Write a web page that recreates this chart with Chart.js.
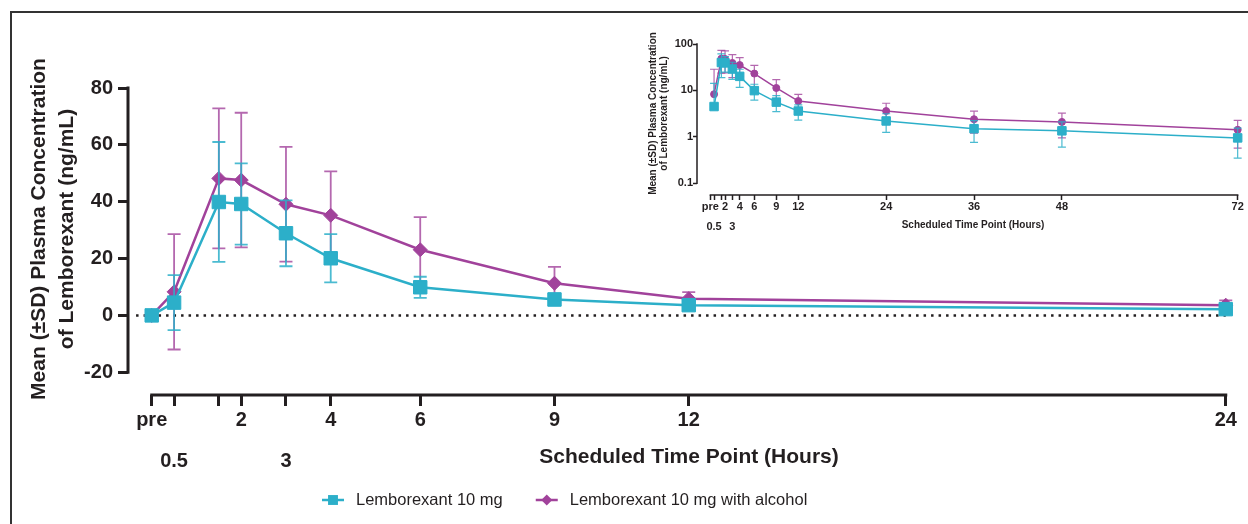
<!DOCTYPE html>
<html>
<head>
<meta charset="utf-8">
<script src="https://cdn.jsdelivr.net/npm/chart.js@4.4.1/dist/chart.umd.min.js"></script>
<style>
  html, body { margin: 0; padding: 0; background: #fff; }
  #wrap { position: relative; width: 1248px; height: 524px; overflow: hidden; }
  #frame { position: absolute; left: 10px; top: 11px; width: 1250px; height: 530px;
           border-left: 2px solid #333; border-top: 2px solid #333; }
  #main { position: absolute; left: 0; top: 0; }
  #inset { position: absolute; left: 630px; top: 25px; }
</style>
</head>
<body>
<div id="wrap">
  <div id="frame"></div>
  <canvas id="main" width="1248" height="524"></canvas>
  <canvas id="inset" width="618" height="215"></canvas>
</div>
<script>
/* ---- data ---- */
const HOURS    = [0, 0.5, 1.5, 2, 3, 4, 6, 9, 12, 24, 36, 48, 72];
const LEM_MEAN = [0, 4.5, 39.9, 39.2, 28.9, 20.1, 9.9, 5.6, 3.6, 2.2, 1.5, 1.35, 0.95];
const LEM_SD   = [0, 9.7, 21.1, 14.3, 11.6, 8.5, 3.7, 2.1, 1.3, 0.95, 0.74, 0.75, 0.6];
const ALC_MEAN = [0, 8.3, 48.2, 47.6, 39.1, 35.2, 23.1, 11.3, 5.9, 3.6, 2.4, 2.1, 1.42];
const ALC_SD   = [0, 20.3, 24.6, 23.7, 20.2, 15.5, 11.5, 5.8, 2.3, 1.7, 1.2, 1.15, 0.85];

const SERIES_LABELS = ['Lemborexant 10 mg', 'Lemborexant 10 mg with alcohol'];

const X_TICKS_MAIN  = [0, 0.5, 1.5, 2, 3, 4, 6, 9, 12, 24];
const X_LABELS_MAIN = ['pre', '\n0.5', '', '2', '\n3', '4', '6', '9', '12', '24'];
const Y_TICKS_MAIN  = [-20, 0, 20, 40, 60, 80];

const X_TICKS_INSET  = [0, 0.5, 1.5, 2, 3, 4, 6, 9, 12, 24, 36, 48, 72];
const X_LABELS_INSET = ['pre', '\n0.5', '', '2', '\n3', '4', '6', '9', '12', '24', '36', '48', '72'];
const Y_TICKS_INSET  = [0.1, 1, 10, 100];

const Y_TITLE = ['Mean (\u00B1SD) Plasma Concentration', 'of Lemborexant (ng/mL)'];
const X_TITLE = 'Scheduled Time Point (Hours)';

/* ---- styling ---- */
const FONT = "'Liberation Sans', Arial, Helvetica, sans-serif";
const INK = '#231f20';
const TEAL = '#2cafc9';
const TEAL_BAR = 'rgba(44,175,201,0.85)';
const PURPLE = '#a1429b';
const PURPLE_BAR = 'rgba(161,66,155,0.8)';

Chart.defaults.font.family = FONT;
Chart.defaults.color = INK;

function series(mean, sd, keep) {
  const data = [], err = [];
  HOURS.forEach((h, i) => {
    if (keep(h)) { data.push({ x: h, y: mean[i] }); err.push(sd[i]); }
  });
  return { data, err };
}

const splitLabel = s => (s.includes('\n') ? s.split('\n') : s);

/* error bars, drawn just before each dataset so markers sit on top */
const errorBars = {
  id: 'errorBars',
  beforeDatasetDraw(chart, args) {
    const ds = chart.data.datasets[args.index];
    if (!ds.errorBars) return;
    const { sd, color, width, cap } = ds.errorBars;
    const { ctx, scales: { x, y } } = chart;
    const logY = y.type === 'logarithmic';
    ctx.save();
    ctx.strokeStyle = color;
    ctx.lineWidth = width;
    ds.data.forEach((p, i) => {
      if (!sd[i]) return;
      const px = x.getPixelForValue(p.x);
      const py = y.getPixelForValue(p.y);
      const hi = y.getPixelForValue(p.y + sd[i]);
      const loVal = p.y - sd[i];
      const lo = (logY && loVal <= 0) ? null : y.getPixelForValue(loVal);
      ctx.beginPath();
      ctx.moveTo(px, lo === null ? py : lo);
      ctx.lineTo(px, hi);
      ctx.moveTo(px - cap, hi); ctx.lineTo(px + cap, hi);
      if (lo !== null) { ctx.moveTo(px - cap, lo); ctx.lineTo(px + cap, lo); }
      ctx.stroke();
    });
    ctx.restore();
  },
};

/* offset axis lines + titles (+ optional legend) */
function decor(cfg) {
  return {
    id: 'decor',
    beforeDatasetsDraw(chart) {
      const { ctx, chartArea, scales: { x, y } } = chart;
      const hw = cfg.axisWidth / 2;
      ctx.save();
      ctx.strokeStyle = INK;
      ctx.lineWidth = cfg.axisWidth;
      ctx.beginPath();
      ctx.moveTo(chartArea.left, y.getPixelForValue(cfg.yTicks[0]) + hw);
      ctx.lineTo(chartArea.left, y.getPixelForValue(cfg.yTicks[cfg.yTicks.length - 1]) - hw);
      ctx.moveTo(x.getPixelForValue(cfg.xTicks[0]) - hw, chartArea.bottom);
      ctx.lineTo(x.getPixelForValue(cfg.xTicks[cfg.xTicks.length - 1]) + hw, chartArea.bottom);
      ctx.stroke();
      ctx.restore();
    },
    afterDraw(chart) {
      const ctx = chart.ctx;
      ctx.save();
      ctx.fillStyle = INK;

      // y title, rotated
      const yt = cfg.yTitle;
      ctx.save();
      ctx.translate(yt.x, yt.y);
      ctx.rotate(-Math.PI / 2);
      ctx.font = yt.font;
      ctx.textAlign = 'center';
      ctx.textBaseline = 'alphabetic';
      Y_TITLE.forEach((t, i) => ctx.fillText(t, 0, i * yt.gap));
      ctx.restore();

      // x title
      const xt = cfg.xTitle;
      ctx.font = xt.font;
      ctx.textAlign = 'center';
      ctx.textBaseline = 'middle';
      ctx.fillText(X_TITLE, xt.x, xt.y);

      // legend
      if (cfg.legend) {
        const lg = cfg.legend;
        let lx = lg.x;
        ctx.font = lg.font;
        ctx.textAlign = 'left';
        chart.data.datasets.forEach(ds => {
          if (!ds.label) return;
          ctx.strokeStyle = ds.borderColor;
          ctx.fillStyle = ds.borderColor;
          ctx.lineWidth = lg.lineWidth;
          ctx.beginPath();
          ctx.moveTo(lx, lg.y);
          ctx.lineTo(lx + lg.lineLen, lg.y);
          ctx.stroke();
          Chart.helpers.drawPoint(ctx, {
            pointStyle: ds.pointStyle, radius: lg.markRadius[ds.pointStyle], borderWidth: 0, rotation: 0,
          }, lx + lg.lineLen / 2, lg.y);
          ctx.fillStyle = INK;
          ctx.fillText(ds.label, lx + lg.lineLen + lg.textGap, lg.y);
          lx += lg.lineLen + lg.textGap + ctx.measureText(ds.label).width + lg.itemGap;
        });
      }
      ctx.restore();
    },
  };
}

/* ---- main (linear) chart ---- */
const keepMain = h => h <= 24;
const lemMain = series(LEM_MEAN, LEM_SD, keepMain);
const alcMain = series(ALC_MEAN, ALC_SD, keepMain);

new Chart(document.getElementById('main'), {
  type: 'line',
  data: {
    datasets: [
      {
        label: SERIES_LABELS[0],
        data: lemMain.data,
        borderColor: TEAL, backgroundColor: TEAL,
        borderWidth: 2.5, tension: 0,
        pointStyle: 'rect', pointRadius: 9.5, pointBorderWidth: 1,
        clip: false, order: 0,
        errorBars: { sd: lemMain.err, color: TEAL_BAR, width: 1.8, cap: 6.5 },
      },
      {
        label: SERIES_LABELS[1],
        data: alcMain.data,
        borderColor: PURPLE, backgroundColor: PURPLE,
        borderWidth: 2.5, tension: 0,
        pointStyle: 'rectRot', pointRadius: 7, pointBorderWidth: 1,
        clip: false, order: 1,
        errorBars: { sd: alcMain.err, color: PURPLE_BAR, width: 1.8, cap: 6.5 },
      },
      {
        label: '',
        data: [{ x: -0.35, y: 0 }, { x: 24, y: 0 }],
        borderColor: INK, borderWidth: 2.5, borderDash: [2.5, 5],
        pointRadius: 0, order: 5,
      },
    ],
  },
  options: {
    responsive: false,
    animation: false,
    layout: { padding: { left: 0, top: 88, right: 20, bottom: 29 } },
    plugins: { legend: { display: false }, tooltip: { enabled: false } },
    scales: {
      x: {
        type: 'linear', min: -0.53, max: 24.05,
        afterFit: s => { s.height = 100; },
        afterBuildTicks: s => { s.ticks = X_TICKS_MAIN.map(v => ({ value: v })); },
        border: { display: false },
        grid: { drawOnChartArea: false, drawTicks: true, tickLength: 11, tickWidth: 3, tickColor: INK },
        ticks: {
          autoSkip: false, maxRotation: 0, minRotation: 0, padding: -6.5, color: INK,
          font: { size: 20, weight: 'bold', lineHeight: '41px' },
          callback: (v, i) => splitLabel(X_LABELS_MAIN[i]),
        },
      },
      y: {
        type: 'linear', min: -28, max: 80,
        afterFit: s => { s.width = 128; },
        afterBuildTicks: s => { s.ticks = Y_TICKS_MAIN.map(v => ({ value: v })); },
        border: { display: false },
        grid: { drawOnChartArea: false, drawTicks: true, tickLength: 10, tickWidth: 3, tickColor: INK },
        ticks: { padding: 5, color: INK, font: { size: 20, weight: 'bold' } },
      },
    },
  },
  plugins: [errorBars, decor({
    axisWidth: 3,
    xTicks: X_TICKS_MAIN,
    yTicks: Y_TICKS_MAIN,
    yTitle: { x: 45, y: 229, gap: 28, font: `bold 21px ${FONT}` },
    xTitle: { x: 689, y: 457.5, font: `bold 21px ${FONT}` },
    legend: {
      x: 322, y: 500, font: `16.5px ${FONT}`, lineWidth: 2.5, lineLen: 22,
      textGap: 12, itemGap: 33, markRadius: { rect: 7, rectRot: 5.5 },
    },
  })],
});

/* ---- inset (log) chart ---- */
const keepInset = h => h > 0;
const lemInset = series(LEM_MEAN, LEM_SD, keepInset);
const alcInset = series(ALC_MEAN, ALC_SD, keepInset);

new Chart(document.getElementById('inset'), {
  type: 'line',
  data: {
    datasets: [
      {
        label: SERIES_LABELS[0],
        data: lemInset.data,
        borderColor: TEAL, backgroundColor: TEAL,
        borderWidth: 1.5, tension: 0,
        pointStyle: 'rect', pointRadius: 6, pointBorderWidth: 1,
        clip: false, order: 0,
        errorBars: { sd: lemInset.err, color: TEAL_BAR, width: 1.2, cap: 4 },
      },
      {
        label: SERIES_LABELS[1],
        data: alcInset.data,
        borderColor: PURPLE, backgroundColor: PURPLE,
        borderWidth: 1.5, tension: 0,
        pointStyle: 'circle', pointRadius: 3.5, pointBorderWidth: 1,
        clip: false, order: 1,
        errorBars: { sd: alcInset.err, color: PURPLE_BAR, width: 1.2, cap: 4 },
      },
    ],
  },
  options: {
    responsive: false,
    animation: false,
    layout: { padding: { left: 0, top: 19, right: 9.6, bottom: 5 } },
    plugins: { legend: { display: false }, tooltip: { enabled: false } },
    scales: {
      x: {
        type: 'linear', min: -1.83, max: 72.1,
        afterFit: s => { s.height = 40; },
        afterBuildTicks: s => { s.ticks = X_TICKS_INSET.map(v => ({ value: v })); },
        border: { display: false },
        grid: { drawOnChartArea: false, drawTicks: true, tickLength: 5, tickWidth: 1.5, tickColor: INK },
        ticks: {
          autoSkip: false, maxRotation: 0, minRotation: 0, padding: -3, color: INK,
          font: { size: 11, weight: 'bold', lineHeight: '20px' },
          callback: (v, i) => splitLabel(X_LABELS_INSET[i]),
        },
      },
      y: {
        type: 'logarithmic', min: 0.056, max: 100,
        afterFit: s => { s.width = 67; },
        afterBuildTicks: s => { s.ticks = Y_TICKS_INSET.map(v => ({ value: v })); },
        border: { display: false },
        grid: { drawOnChartArea: false, drawTicks: true, tickLength: 4, tickWidth: 1.5, tickColor: INK },
        ticks: {
          autoSkip: false, padding: 0, color: INK,
          font: { size: 11, weight: 'bold' },
          callback: v => String(v),
        },
      },
    },
  },
  plugins: [errorBars, decor({
    axisWidth: 1.5,
    xTicks: X_TICKS_INSET,
    yTicks: Y_TICKS_INSET,
    yTitle: { x: 25.5, y: 88.5, gap: 11.5, font: `bold 10px ${FONT}` },
    xTitle: { x: 343, y: 200, font: `bold 10px ${FONT}` },
  })],
});
</script>
</body>
</html>
